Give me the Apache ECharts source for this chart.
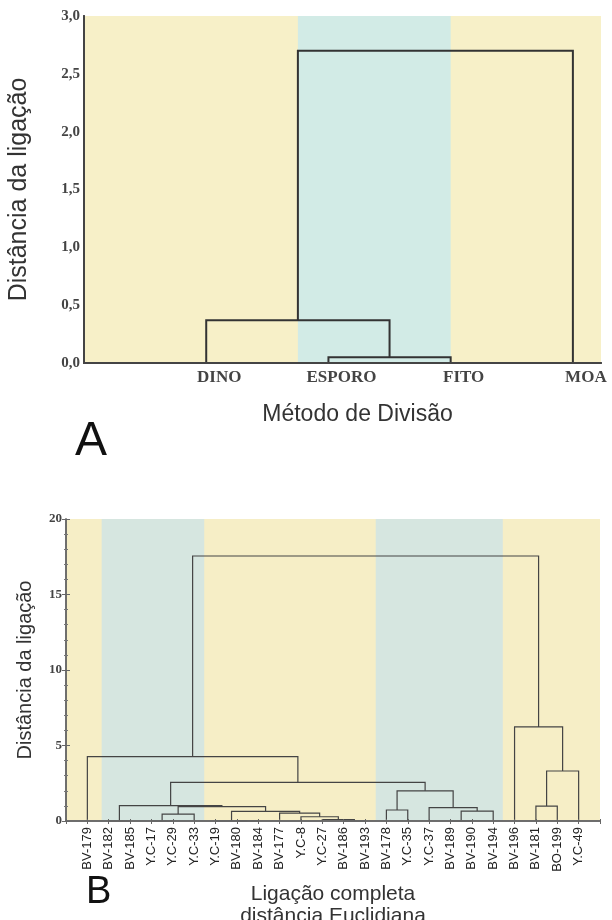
<!DOCTYPE html>
<html><head><meta charset="utf-8">
<script src="https://cdn.jsdelivr.net/npm/echarts@6.0.0/dist/echarts.min.js"></script>
<style>html,body{margin:0;padding:0;background:#fff}#c{width:612px;height:920px}</style>
</head><body><div id="c"></div>
<script>
// ---------- Chart A data ----------
const leavesA = ['DINO', 'ESPORO', 'FITO', 'MOA'];
const mergeLeftA = ['ESPORO', 'DINO', 'c1'];
const mergeRightA = ['FITO', 'c0', 'MOA'];
const mergeHeightA = [0.05, 0.37, 2.70];
const bandsA = [[1.75, 3.0]];

// ---------- Chart B data ----------
const leavesB = ['BV-179', 'BV-182', 'BV-185', 'Y.C-17', 'Y.C-29', 'Y.C-33', 'Y.C-19', 'BV-180',
  'BV-184', 'BV-177', 'Y.C-8', 'Y.C-27', 'BV-186', 'BV-193', 'BV-178', 'Y.C-35', 'Y.C-37',
  'BV-189', 'BV-190', 'BV-194', 'BV-196', 'BV-181', 'BO-199', 'Y.C-49'];
const mergeLeftB = ['BV-182', 'Y.C-17', 'c1', 'BV-180', 'Y.C-19', 'BV-186', 'Y.C-27', 'Y.C-8',
  'BV-177', 'c4', 'c2', 'c0', 'BV-178', 'BV-189', 'c13', 'Y.C-37', 'c12', 'c11', 'BV-179',
  'BV-181', 'c19', 'BV-196', 'c18'];
const mergeRightB = ['BV-185', 'Y.C-29', 'Y.C-33', 'BV-184', 'c3', 'BV-193', 'c5', 'c6',
  'c7', 'c8', 'c9', 'c10', 'Y.C-35', 'BV-190', 'BV-194', 'c14', 'c15', 'c16', 'c17',
  'BO-199', 'Y.C-49', 'c20', 'c21'];
const mergeHeightB = [0, 0, 0.46, 0, 0, 0, 0.1, 0.28, 0.52, 0.64, 0.95, 1.02, 0.73, 0, 0.66,
  0.88, 2.0, 2.56, 4.26, 0.99, 3.31, 6.23, 17.55];
const bandsB = [[1.67, 6.47], [14.5, 20.45]];

const yTicksB = ['0', '5', '10', '15', '20'];

// ---------- build dendrogram links ----------
function layout(leaves, L, R, H) {
  const pos = {}, hgt = {};
  leaves.forEach((n, i) => { pos[n] = i + 1; hgt[n] = 0; });
  const items = [];
  L.forEach((l, i) => {
    const r = R[i], h = H[i];
    items.push([pos[l], hgt[l], pos[r], hgt[r], h]);
    pos['c' + i] = (pos[l] + pos[r]) / 2;
    hgt['c' + i] = h;
  });
  return items;
}
const linksA = layout(leavesA, mergeLeftA, mergeRightA, mergeHeightA);
const linksB = layout(leavesB, mergeLeftB, mergeRightB, mergeHeightB);

function linkRenderer(color, width) {
  return function (params, api) {
    const xl = api.value(0), hl = api.value(1), xr = api.value(2), hr = api.value(3), h = api.value(4);
    const pts = [api.coord([xl, hl]), api.coord([xl, h]), api.coord([xr, h]), api.coord([xr, hr])];
    return { type: 'polyline', shape: { points: pts }, style: { stroke: color, lineWidth: width, fill: null } };
  };
}
function bandRenderer(ymax, color) {
  return function (params, api) {
    const a = api.coord([api.value(0), ymax]);
    const b = api.coord([api.value(1), 0]);
    return { type: 'rect', shape: { x: a[0], y: a[1], width: b[0] - a[0], height: b[1] - a[1] }, style: { fill: color } };
  };
}

const YEL_A = '#f7f0c8', BLUE_A = '#d2ebe6';
const YEL_B = '#f6eec6', BLUE_B = '#d6e6e0';
const serif = 'Liberation Serif';
const sans = 'Liberation Sans';

const chart = echarts.init(document.getElementById('c'), null, { renderer: 'canvas' });
chart.setOption({
  animation: false,
  backgroundColor: '#fff',
  grid: [
    { left: 84, top: 16, width: 517, height: 347, show: true, backgroundColor: YEL_A, borderWidth: 0, containLabel: false, outerBoundsMode: 'none' },
    { left: 66, top: 519, width: 534, height: 302, show: true, backgroundColor: YEL_B, borderWidth: 0, containLabel: false, outerBoundsMode: 'none' }
  ],
  graphic: [
    { type: 'text', left: 75, top: 418, style: { text: 'A', font: '48px ' + sans, fill: '#111' } },
    { type: 'text', left: 86, top: 874, style: { text: 'B', font: '38px ' + sans, fill: '#111' } }
  ],
  xAxis: [
    {
      gridIndex: 0, type: 'value', min: 0, max: 4.23, interval: 1, position: 'bottom', z: 5,
      axisLine: { show: true, lineStyle: { color: '#444', width: 2 } },
      axisTick: { show: false }, splitLine: { show: false },
      axisLabel: {
        margin: 6, padding: [0, 0, 0, 26], color: '#444', fontFamily: serif, fontWeight: 'bold', fontSize: 17,
        formatter: v => (Number.isInteger(v) && leavesA[v - 1]) ? leavesA[v - 1] : ''
      },
      name: 'Método de Divisão', nameLocation: 'middle', nameGap: 40,
      nameTextStyle: { fontFamily: sans, fontSize: 23, color: '#333', padding: [0, 0, 0, 30] }
    },
    {
      gridIndex: 0, type: 'value', min: 0, max: 4.23, position: 'top', z: 5,
      axisLine: { show: true, lineStyle: { color: '#444', width: 2 } },
      axisTick: { show: false }, axisLabel: { show: false }, splitLine: { show: false }
    },
    {
      gridIndex: 1, type: 'value', min: 0, max: 25, interval: 1, position: 'bottom', z: 5,
      axisLine: { show: true, lineStyle: { color: '#666', width: 1.5 } },
      axisTick: { show: true, inside: true, length: 2, lineStyle: { color: '#666' } },
      splitLine: { show: false },
      axisLabel: {
        rotate: 90, margin: 6, color: '#222', fontFamily: sans, fontSize: 13,
        formatter: v => (Number.isInteger(v) && leavesB[v - 1]) ? leavesB[v - 1] : ''
      },
      name: 'Ligação completa\ndistância Euclidiana', nameLocation: 'middle', nameGap: 62,
      nameTextStyle: { fontFamily: sans, fontSize: 21, color: '#333', lineHeight: 22, verticalAlign: 'top' }
    },
    {
      gridIndex: 1, type: 'value', min: 0, max: 25, interval: 1, position: 'top', z: 5,
      axisLine: { show: true, lineStyle: { color: '#666', width: 1.5 } },
      axisTick: { show: true, inside: true, length: 3, lineStyle: { color: '#666' } },
      axisLabel: { show: false }, splitLine: { show: false }
    }
  ],
  yAxis: [
    {
      gridIndex: 0, type: 'value', min: 0, max: 3, interval: 0.5, z: 5,
      axisLine: { show: true, lineStyle: { color: '#444', width: 2 } },
      axisTick: { show: false }, splitLine: { show: false },
      axisLabel: { margin: 4, color: '#444', fontFamily: serif, fontWeight: 'bold', fontSize: 15, formatter: v => v.toFixed(1).replace('.', ',') },
      name: 'Distância da ligação', nameLocation: 'middle', nameGap: 52,
      nameTextStyle: { fontFamily: sans, fontSize: 25, color: '#333' }
    },
    {
      gridIndex: 0, type: 'value', min: 0, max: 3, position: 'right', z: 5,
      axisLine: { show: true, lineStyle: { color: '#444', width: 2 } },
      axisTick: { show: false }, axisLabel: { show: false }, splitLine: { show: false }
    },
    {
      gridIndex: 1, type: 'value', min: 0, max: 20, interval: 5, z: 5,
      axisLine: { show: true, lineStyle: { color: '#666', width: 1.5 } },
      axisTick: { show: true, inside: true, length: 4, lineStyle: { color: '#666' } },
      minorTick: { show: true, splitNumber: 5, length: 2, lineStyle: { color: '#777' } },
      splitLine: { show: false },
      axisLabel: { margin: 4, color: '#444', fontFamily: serif, fontWeight: 'bold', fontSize: 13, formatter: v => yTicksB[v / 5] },
      name: 'Distância da ligação', nameLocation: 'middle', nameGap: 31,
      nameTextStyle: { fontFamily: sans, fontSize: 20, color: '#333' }
    },
    {
      gridIndex: 1, type: 'value', min: 0, max: 20, interval: 5, position: 'right', z: 5,
      axisLine: { show: true, lineStyle: { color: '#666', width: 1.5 } },
      axisTick: { show: true, inside: true, length: 4, lineStyle: { color: '#666' } },
      minorTick: { show: true, splitNumber: 5, length: 2, lineStyle: { color: '#777' } },
      axisLabel: { show: false }, splitLine: { show: false }
    }
  ],
  series: [
    { type: 'custom', xAxisIndex: 0, yAxisIndex: 0, z: 1, data: bandsA, renderItem: bandRenderer(3, BLUE_A), silent: true },
    { type: 'custom', xAxisIndex: 0, yAxisIndex: 0, z: 3, data: linksA, renderItem: linkRenderer('#333', 2), silent: true },
    { type: 'custom', xAxisIndex: 2, yAxisIndex: 2, z: 1, data: bandsB, renderItem: bandRenderer(20, BLUE_B), silent: true },
    { type: 'custom', xAxisIndex: 2, yAxisIndex: 2, z: 3, data: linksB, renderItem: linkRenderer('#444', 1.2), silent: true }
  ]
});
</script></body></html>
